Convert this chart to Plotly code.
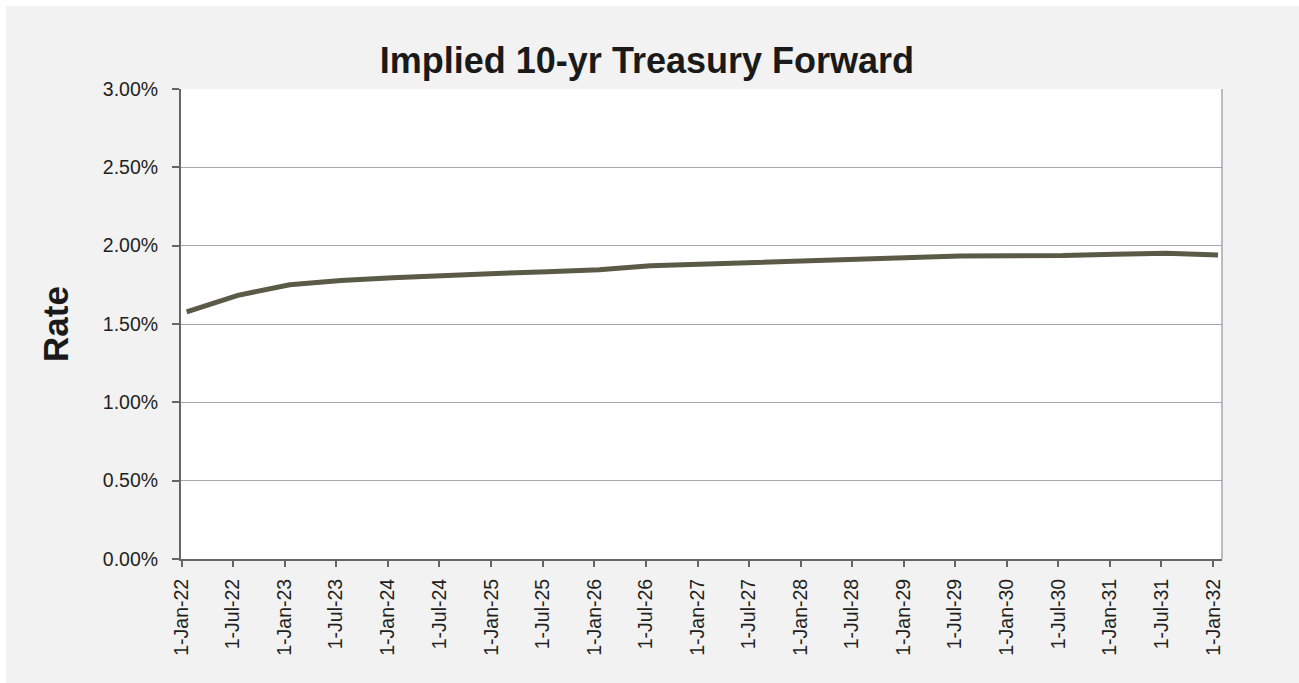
import plotly.graph_objects as go

# Data: semiannual forward points (dates) and implied 10-yr rate (decimal)
dates = ["2022-01-18", "2022-07-18", "2023-01-18", "2023-07-18", "2024-01-18",
         "2024-07-18", "2025-01-18", "2025-07-18", "2026-01-18", "2026-07-18",
         "2027-01-18", "2027-07-18", "2028-01-18", "2028-07-18", "2029-01-18",
         "2029-07-18", "2030-01-18", "2030-07-18", "2031-01-18", "2031-07-18",
         "2032-01-18"]
rates = [0.01578, 0.01683, 0.01750, 0.01777, 0.01795, 0.01812, 0.01823, 0.01834,
         0.01846, 0.01872, 0.01883, 0.01893, 0.01903, 0.01914, 0.01925, 0.01934,
         0.01936, 0.01937, 0.01946, 0.01951, 0.01940]

title_text = "Implied 10-yr Treasury Forward"
y_title = "Rate"

fig = go.Figure()
fig.add_trace(go.Scatter(
    x=dates, y=rates, mode="lines",
    line=dict(color="#5a5a46", width=5),
    hoverinfo="skip", showlegend=False,
))

BG = "#f2f2f2"
fig.update_layout(
    width=1299, height=683,
    paper_bgcolor=BG, plot_bgcolor="white",
    margin=dict(l=181, r=77, t=89, b=124, pad=0),
    font=dict(family="Liberation Sans, Arial, sans-serif", color="#231f20"),
    title=dict(text="<b>" + title_text + "</b>", x=0.498, xanchor="center",
               y=0.912, yanchor="middle",
               font=dict(size=36, color="#1a1a1a")),
    showlegend=False,
)

fig.update_xaxes(
    type="date",
    range=["2021-12-29", "2032-02-01"],
    tick0="2022-01-01", dtick="M6",
    tickformat="%-d-%b-%y",
    tickangle=-90,
    tickfont=dict(size=19.5, color="#231f20"),
    ticks="outside", ticklen=6, tickwidth=2, tickcolor="#666666",
    showline=True, linecolor="#666666", linewidth=2,
    showgrid=False, zeroline=False,
    ticklabelstandoff=4,
)

fig.update_yaxes(
    range=[0, 0.03], dtick=0.005, tickformat=".2%",
    tickfont=dict(size=19.5, color="#231f20"),
    ticks="outside", ticklen=7, tickwidth=2, tickcolor="#666666",
    showline=True, linecolor="#666666", linewidth=2,
    showgrid=True, gridcolor="#a6a6ad", gridwidth=1.3,
    zeroline=False,
    ticklabelstandoff=10,
    title=dict(text="<b>" + y_title + "</b>", font=dict(size=35, color="#1a1a1a"),
               standoff=24),
)

# light right border of the plot area
fig.add_shape(type="line", xref="paper", yref="paper", x0=1, x1=1, y0=0, y1=1,
              line=dict(color="#a6a6ad", width=1.5), layer="above")
# thin white strips on the outer top and left edges
fig.add_shape(type="rect", xref="paper", yref="paper", x0=-0.2, x1=1.1,
              y0=(559 - 6) / 470, y1=1.2, fillcolor="white", line=dict(width=0),
              layer="above")
fig.add_shape(type="rect", xref="paper", yref="paper", x0=-0.2, x1=(6 - 181) / 1041,
              y0=-0.3, y1=1.2, fillcolor="white", line=dict(width=0),
              layer="above")

fig.write_html("out.html")
